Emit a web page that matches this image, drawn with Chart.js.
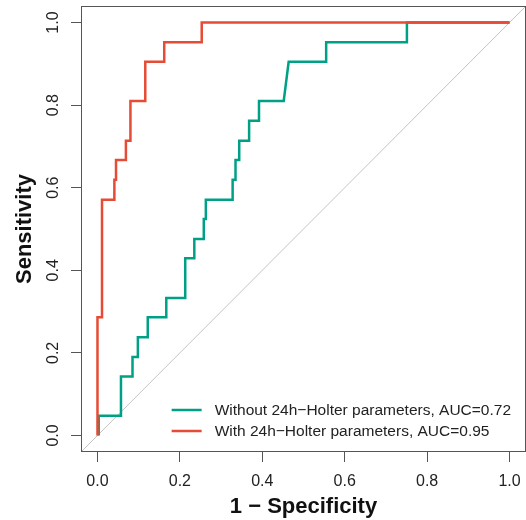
<!DOCTYPE html>
<html>
<head>
<meta charset="utf-8">
<script src="https://cdn.jsdelivr.net/npm/chart.js@4"></script>
<style>
  body { margin: 0; background: #fff; }
  #wrap { width: 526px; height: 520px; }
</style>
</head>
<body>
<div id="wrap"><canvas id="rocChart"></canvas></div>
<script>
// ROC curve points (1 - specificity, sensitivity)
const withoutFpr = [0.003, 0.003, 0.057, 0.057, 0.085, 0.085, 0.098, 0.098, 0.122, 0.122, 0.167, 0.167, 0.213, 0.213, 0.235, 0.235, 0.258, 0.258, 0.263, 0.263, 0.328, 0.328, 0.335, 0.335, 0.344, 0.344, 0.368, 0.368, 0.392, 0.392, 0.452, 0.464, 0.555, 0.555, 0.751, 0.751, 1.0];
const withoutSens = [0, 0.048, 0.048, 0.143, 0.143, 0.190, 0.190, 0.238, 0.238, 0.286, 0.286, 0.333, 0.333, 0.429, 0.429, 0.476, 0.476, 0.524, 0.524, 0.571, 0.571, 0.619, 0.619, 0.667, 0.667, 0.714, 0.714, 0.762, 0.762, 0.810, 0.810, 0.905, 0.905, 0.952, 0.952, 1.0, 1.0];
const withFpr = [0, 0, 0.011, 0.011, 0.041, 0.041, 0.045, 0.045, 0.069, 0.069, 0.080, 0.080, 0.116, 0.116, 0.162, 0.162, 0.253, 0.253, 1.0];
const withSens = [0, 0.286, 0.286, 0.571, 0.571, 0.619, 0.619, 0.667, 0.667, 0.714, 0.714, 0.810, 0.810, 0.905, 0.905, 0.952, 0.952, 1.0, 1.0];
const diagX = [-0.04, 1.04];
const tickValues = [0, 0.2, 0.4, 0.6, 0.8, 1.0];
const labelWithout = 'Without 24h\u2212Holter parameters, AUC=0.72';
const labelWith = 'With 24h\u2212Holter parameters, AUC=0.95';

const fontFamily = '"Liberation Sans", Arial, sans-serif';
const toPoints = (xs, ys) => xs.map((x, i) => ({ x: x, y: ys[i] }));

// box around the plot region plus an R-style legend in the bottom right corner
const boxAndLegend = {
    id: 'boxAndLegend',
    afterDraw(chart) {
        const ctx = chart.ctx;
        const area = chart.chartArea;
        ctx.save();
        ctx.strokeStyle = '#555';
        ctx.lineWidth = 1;
        ctx.strokeRect(area.left + 0.5, area.top + 0.5, area.right - area.left - 1, area.bottom - area.top - 1);

        const items = chart.data.datasets.filter(ds => ds.label);
        ctx.font = '15.5px ' + fontFamily;
        const widest = Math.max(...items.map(ds => ctx.measureText(ds.label).width));
        const textX = area.right - 15 - widest;
        ctx.textBaseline = 'middle';
        ctx.textAlign = 'left';
        items.forEach((ds, i) => {
            const y = area.bottom - 21 * (items.length - i);
            ctx.strokeStyle = ds.borderColor;
            ctx.lineWidth = 2.5;
            ctx.beginPath();
            ctx.moveTo(textX - 43, y);
            ctx.lineTo(textX - 13, y);
            ctx.stroke();
            ctx.fillStyle = '#222';
            ctx.fillText(ds.label, textX, y + 1);
        });
        ctx.restore();
    }
};

function fixedTicks(scale) {
    scale.ticks = tickValues.map(v => ({ value: v }));
}

new Chart(document.getElementById('rocChart'), {
    type: 'line',
    data: {
        datasets: [
            {
                label: labelWithout,
                data: toPoints(withoutFpr, withoutSens),
                borderColor: '#00A087',
                borderWidth: 2.5,
                pointRadius: 0,
                order: 1
            },
            {
                label: labelWith,
                data: toPoints(withFpr, withSens),
                borderColor: '#E64B35',
                borderWidth: 2.5,
                pointRadius: 0,
                order: 0
            },
            {
                data: toPoints(diagX, diagX),
                borderColor: '#c4c4c4',
                borderWidth: 1,
                pointRadius: 0,
                order: 2
            }
        ]
    },
    options: {
        responsive: true,
        maintainAspectRatio: false,
        animation: false,
        layout: { padding: { top: 6, right: 0, left: 0, bottom: 0 } },
        plugins: {
            legend: { display: false },
            tooltip: { enabled: false }
        },
        scales: {
            x: {
                type: 'linear',
                min: -0.04,
                max: 1.04,
                afterBuildTicks: fixedTicks,
                afterFit: scale => {
                    scale.height = 68;
                    scale.paddingLeft = 0;
                    scale.paddingRight = 0;
                },
                border: { display: false },
                grid: { drawOnChartArea: false, drawTicks: true, tickLength: 10, color: '#555' },
                ticks: {
                    padding: 10,
                    color: '#222',
                    font: { family: fontFamily, size: 16 },
                    maxRotation: 0,
                    callback: v => v.toFixed(1)
                },
                title: {
                    display: true,
                    text: '1 \u2212 Specificity',
                    color: '#111',
                    font: { family: fontFamily, size: 22, weight: 'bold' },
                    padding: { top: 0, bottom: 0 }
                }
            },
            y: {
                type: 'linear',
                min: -0.04,
                max: 1.04,
                afterBuildTicks: fixedTicks,
                afterFit: scale => {
                    scale.width = 81;
                    scale.paddingTop = 0;
                    scale.paddingBottom = 0;
                },
                border: { display: false },
                grid: { drawOnChartArea: false, drawTicks: true, tickLength: 10, color: '#555' },
                ticks: {
                    padding: 6,
                    color: '#222',
                    font: { family: fontFamily, size: 16 },
                    minRotation: 90,
                    maxRotation: 90,
                    crossAlign: 'center',
                    callback: v => v.toFixed(1)
                },
                title: {
                    display: true,
                    text: 'Sensitivity',
                    color: '#111',
                    font: { family: fontFamily, size: 22, weight: 'bold' },
                    padding: { top: 12, bottom: 2 }
                }
            }
        }
    },
    plugins: [boxAndLegend]
});
</script>
</body>
</html>
